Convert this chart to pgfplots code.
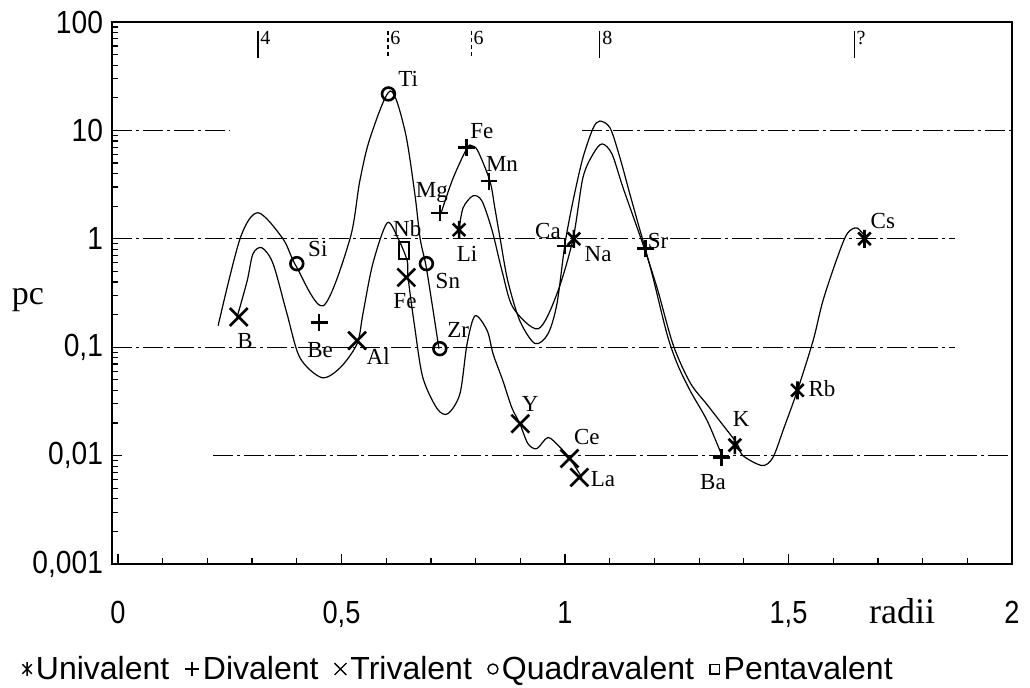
\documentclass[border=0pt]{standalone}
\usepackage{fontspec}
\setmainfont{Liberation Serif}
\newfontfamily\ytf[FakeStretch=0.88]{Liberation Sans}
\newfontfamily\xtf[FakeStretch=0.85]{Liberation Sans}
\newfontfamily\lgf{Liberation Sans}
\usepackage{pgfplots}
\pgfplotsset{compat=1.18}

% univalent mark: a cross with a vertical bar
\pgfdeclareplotmark{xbar}{%
  \pgfpathmoveto{\pgfqpoint{-.7\pgfplotmarksize}{-.7\pgfplotmarksize}}%
  \pgfpathlineto{\pgfqpoint{.7\pgfplotmarksize}{.7\pgfplotmarksize}}%
  \pgfpathmoveto{\pgfqpoint{-.7\pgfplotmarksize}{.7\pgfplotmarksize}}%
  \pgfpathlineto{\pgfqpoint{.7\pgfplotmarksize}{-.7\pgfplotmarksize}}%
  \pgfpathmoveto{\pgfqpoint{0pt}{-\pgfplotmarksize}}%
  \pgfpathlineto{\pgfqpoint{0pt}{\pgfplotmarksize}}%
  \pgfusepathqstroke}

\pgfplotsset{
  gridl/.style={black, line width=0.5pt, dash pattern=on 10pt off 2pt on 1.5pt off 2pt, forget plot},
  curve/.style={black, line width=0.6pt, smooth, no marks, forget plot},
}
\tikzset{
  lab/.style={font=\fontsize{11.5}{13}\selectfont, inner sep=0pt},
  cn/.style={font=\fontsize{10}{12}\selectfont, inner sep=1pt, anchor=north west},
}

\begin{document}
\begin{tikzpicture}
\begin{axis}[
  scale only axis, width=450pt, height=271pt,
  xmin=-0.0134, xmax=2, ymin=0.001, ymax=100, ymode=log,
  clip=false,
  axis line style={line width=0.9pt},
  xtick={0,0.5,1,1.5,2}, xticklabels={0,{0,5},1,{1,5},2},
  minor xtick={0.1,0.2,0.3,0.4,0.6,0.7,0.8,0.9,1.1,1.2,1.3,1.4,1.6,1.7,1.8,1.9},
  ytick={0.001,0.01,0.1,1,10,100}, yticklabels={{0,001},{0,01},{0,1},1,10,100},
  minor ytick={0.002,0.003,0.004,0.005,0.006,0.007,0.008,0.009,0.02,0.03,0.04,0.05,0.06,0.07,0.08,0.09,0.2,0.3,0.4,0.5,0.6,0.7,0.8,0.9,2,3,4,5,6,7,8,9,20,30,40,50,60,70,80,90},
  tick pos=left, tick align=inside,
  major tick length=5pt, minor tick length=3pt,
  tick style={black, line width=0.6pt},
  xticklabel style={font=\xtf\fontsize{16}{19}\selectfont, yshift=-15pt},
  yticklabel style={font=\ytf\fontsize{16}{19}\selectfont, xshift=-1pt},
  legend style={at={(0,0)}, anchor=west, xshift=-45pt, yshift=-52.5pt,
    draw=none, fill=none, inner sep=0pt,
    font=\lgf\fontsize{16}{18}\selectfont,
    /tikz/every even column/.append style={column sep=6pt}},
  legend columns=-1,
  legend image code/.code={\draw[mark repeat=2,mark phase=2] plot coordinates {(0pt,0pt)(5pt,0pt)(10pt,0pt)};},
]
% dash-dot reference lines
\addplot[gridl] coordinates {(-0.0134,10)(0.25,10)};
\addplot[gridl] coordinates {(1.038,10)(2,10)};
\addplot[gridl] coordinates {(-0.0134,1)(1.872,1)};
\addplot[gridl] coordinates {(-0.0134,0.1)(1.872,0.1)};
\addplot[gridl] coordinates {(0.213,0.01)(2,0.01)};

% quadravalent curve
\addplot[curve] coordinates {(0.224,0.158)(0.273,1.0)(0.313,1.74)(0.369,1.0)(0.398,0.564)(0.459,0.241)(0.519,1.0)(0.541,3.42)(0.564,8.53)(0.609,23.1)(0.642,9.9)(0.664,2.60)(0.676,1.0)(0.689,0.564)(0.705,0.217)(0.718,0.0969)};
% trivalent curve
\addplot[curve] coordinates {(0.266,0.187)(0.289,0.410)(0.302,0.727)(0.322,0.826)(0.347,0.588)(0.378,0.204)(0.407,0.080)(0.456,0.0524)(0.497,0.0647)(0.535,0.108)(0.548,0.204)(0.570,0.588)(0.602,1.40)(0.626,1.02)(0.647,0.627)(0.649,0.437)(0.664,0.151)(0.682,0.0524)(0.714,0.0271)(0.738,0.0244)(0.765,0.0373)(0.781,0.108)(0.799,0.195)(0.826,0.142)(0.839,0.0871)(0.861,0.0491)(0.881,0.0277)(0.899,0.0197)(0.917,0.0129)(0.937,0.0116)(0.962,0.0147)(0.989,0.0119)(1.011,0.00938)(1.038,0.00627)};
% divalent curve
\addplot[curve] coordinates {(0.723,1.74)(0.749,3.57)(0.781,6.90)(0.792,7.20)(0.805,6.47)(0.832,3.42)(0.843,1.93)(0.855,1.0)(0.872,0.410)(0.899,0.175)(0.933,0.108)(0.962,0.133)(0.982,0.252)(1.000,0.899)(1.018,2.24)(1.040,5.58)(1.063,10.5)(1.078,12.2)(1.101,10.5)(1.123,5.58)(1.145,2.60)(1.168,1.19)(1.179,0.826)(1.197,0.437)(1.228,0.133)(1.251,0.0705)(1.280,0.0397)(1.318,0.0210)(1.351,0.0100)};
% univalent curve
\addplot[curve] coordinates {(0.763,1.21)(0.772,1.93)(0.794,2.49)(0.814,2.24)(0.837,1.19)(0.859,0.507)(0.884,0.231)(0.940,0.148)(0.982,0.311)(1.018,1.0)(1.040,3.65)(1.063,6.07)(1.083,7.51)(1.105,6.07)(1.130,2.95)(1.174,0.899)(1.206,0.353)(1.242,0.105)(1.280,0.047)(1.318,0.0295)(1.351,0.0197)(1.385,0.0129)(1.398,0.010)(1.441,0.0081)(1.465,0.0096)(1.49,0.0181)(1.52,0.040)(1.555,0.115)(1.577,0.268)(1.609,0.668)(1.631,1.11)(1.653,1.26)(1.675,1.0)};

% data points
\addplot[only marks, mark=xbar, mark size=4.5pt, line width=1.3pt, forget plot] coordinates {(0.763,1.21)(1.02,1.0)(1.38,0.0125)(1.52,0.040)(1.67,1.0)};
\addplot[only marks, mark=+, mark size=4.2pt, line width=1.3pt, forget plot] coordinates {(0.45,0.17)(0.72,1.73)(0.78,7.0)(0.83,3.4)(1.00,0.86)(1.18,0.81)(1.35,0.0096)};
\addplot[only marks, mark=x, mark size=6.3pt, line width=1.3pt, forget plot] coordinates {(0.27,0.19)(0.535,0.115)(0.645,0.44)(0.90,0.0197)(1.01,0.0094)(1.032,0.0063)};
\addplot[only marks, mark=o, mark size=3.2pt, line width=1.3pt, forget plot] coordinates {(0.40,0.59)(0.605,21.7)(0.69,0.59)(0.72,0.097)};
\addplot[only marks, mark=square, mark size=4.2pt, line width=1.3pt, mark options={xscale=0.6}, forget plot] coordinates {(0.64,0.78)};

% legend
\addlegendimage{only marks, mark=xbar, mark size=3.4pt, line width=0.7pt}
\addlegendentry{Univalent}
\addlegendimage{only marks, mark=+, mark size=3.4pt, line width=0.7pt}
\addlegendentry{Divalent}
\addlegendimage{only marks, mark=x, mark size=4.2pt, line width=0.7pt}
\addlegendentry{Trivalent}
\addlegendimage{only marks, mark=o, mark size=2.5pt, line width=0.7pt}
\addlegendentry{Quadravalent}
\addlegendimage{only marks, mark=square, mark size=2.4pt, line width=0.7pt}
\addlegendentry{Pentavalent}

% element labels
\node[lab] at (axis cs:0.284,0.115) {B};
\node[lab] at (axis cs:0.452,0.0948) {Be};
\node[lab] at (axis cs:0.582,0.0817) {Al};
\node[lab] at (axis cs:0.447,0.809) {Si};
\node[lab] at (axis cs:0.649,29.8) {Ti};
\node[lab] at (axis cs:0.647,1.24) {Nb};
\node[lab] at (axis cs:0.642,0.268) {Fe};
\node[lab] at (axis cs:0.738,0.410) {Sn};
\node[lab] at (axis cs:0.761,0.145) {Zr};
\node[lab] at (axis cs:0.702,2.65) {Mg};
\node[lab] at (axis cs:0.781,0.727) {Li};
\node[lab] at (axis cs:0.814,9.89) {Fe};
\node[lab] at (axis cs:0.859,4.91) {Mn};
\node[lab] at (axis cs:0.922,0.0301) {Y};
\node[lab] at (axis cs:1.049,0.0147) {Ce};
\node[lab] at (axis cs:1.085,0.00614) {La};
\node[lab] at (axis cs:0.962,1.19) {Ca};
\node[lab] at (axis cs:1.074,0.727) {Na};
\node[lab] at (axis cs:1.208,0.959) {Sr};
\node[lab] at (axis cs:1.711,1.47) {Cs};
\node[lab] at (axis cs:1.331,0.00576) {Ba};
\node[lab] at (axis cs:1.394,0.0219) {K};
\node[lab] at (axis cs:1.575,0.0415) {Rb};

% coordination numbers along the top
\draw[line width=0.6pt] (axis cs:0.313,82.6) -- (axis cs:0.313,46.6);
\node[cn] at (axis cs:0.313,87) {4};
\draw[line width=0.6pt, dash pattern=on 2pt off 1.5pt] (axis cs:0.604,82.6) -- (axis cs:0.604,46.6);
\node[cn] at (axis cs:0.604,87) {6};
\draw[line width=0.6pt, dash pattern=on 2pt off 1.5pt] (axis cs:0.790,82.6) -- (axis cs:0.790,46.6);
\node[cn] at (axis cs:0.790,87) {6};
\draw[line width=0.6pt] (axis cs:1.078,82.6) -- (axis cs:1.078,46.6);
\node[cn] at (axis cs:1.078,87) {8};
\draw[line width=0.6pt] (axis cs:1.647,82.6) -- (axis cs:1.647,46.6);
\node[cn] at (axis cs:1.647,87) {?};

% axis names
\node[font=\fontsize{17}{19}\selectfont, inner sep=0pt] at ([xshift=-42pt]rel axis cs:0,0.487) {pc};
\node[font=\fontsize{18}{20}\selectfont, inner sep=0pt] at ([yshift=-23.5pt]rel axis cs:0.878,0) {radii};

\coordinate (SW) at (rel axis cs:0,0);
\coordinate (NE) at (rel axis cs:1,1);
\end{axis}
\pgfresetboundingbox
\path[use as bounding box] ([shift={(-56pt,-61.5pt)}]SW) rectangle ([shift={(9pt,11pt)}]NE);
\end{tikzpicture}
\end{document}
